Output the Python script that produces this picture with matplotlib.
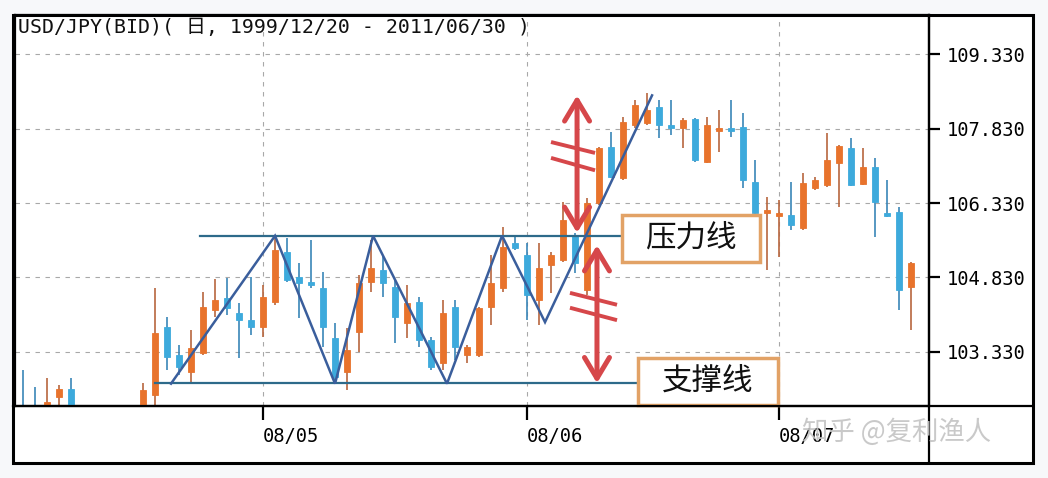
import matplotlib
matplotlib.use('Agg')
import matplotlib.pyplot as plt
from matplotlib.patches import Rectangle, FancyArrowPatch
from matplotlib.lines import Line2D
import pandas as pd

# ---------------- data (daily USD/JPY candles) ----------------
opens = [102.20, 102.10, 102.00, 102.42, 102.59, 102.00, 101.60, 101.50, 101.20, 101.70,
         102.10, 102.46, 103.83, 103.27, 102.93, 103.31, 104.18, 104.42, 104.12, 103.97,
         103.83, 104.34, 105.34, 104.84, 104.74, 104.62, 103.61, 102.93, 103.73, 104.74,
         104.98, 104.64, 103.91, 104.34, 103.57, 103.11, 104.24, 103.27, 103.27, 104.24,
         104.62, 105.52, 105.28, 104.38, 105.08, 105.18, 105.69, 104.58, 106.33, 107.46,
         106.83, 107.90, 107.94, 108.26, 107.88, 107.84, 108.02, 107.16, 107.78, 107.82,
         107.86, 106.75, 106.13, 106.07, 106.09, 105.83, 106.63, 106.69, 107.13, 107.44,
         106.71, 107.05, 106.11, 106.15, 104.64]
highs = [102.97, 102.62, 102.81, 102.67, 102.81, 102.10, 101.90, 101.80, 101.90, 102.15,
         102.71, 104.62, 104.03, 103.47, 103.77, 104.54, 104.80, 104.82, 104.32, 104.84,
         104.68, 105.65, 105.63, 105.12, 105.58, 104.94, 103.91, 103.81, 104.88, 105.58,
         105.28, 104.78, 104.68, 104.44, 103.63, 104.38, 104.38, 103.47, 104.24, 105.28,
         105.85, 105.65, 105.52, 105.52, 105.34, 106.35, 105.73, 106.43, 107.46, 107.76,
         108.06, 108.40, 108.54, 108.40, 108.40, 108.04, 108.04, 108.06, 108.20, 108.40,
         108.14, 107.20, 106.45, 106.39, 106.75, 106.93, 106.85, 107.74, 107.50, 107.64,
         107.44, 107.24, 106.79, 106.25, 105.14]
lows = [101.90, 101.70, 101.80, 102.10, 101.90, 101.40, 101.20, 101.00, 100.90, 101.30,
        101.90, 102.20, 102.97, 102.87, 102.73, 103.27, 104.03, 104.08, 103.21, 103.67,
        103.63, 104.28, 104.74, 104.02, 104.62, 103.43, 102.71, 102.57, 103.33, 104.54,
        104.44, 103.51, 103.61, 103.43, 102.97, 102.97, 103.17, 103.11, 103.23, 103.87,
        104.54, 105.38, 103.97, 103.87, 104.52, 105.14, 104.92, 104.48, 106.30, 106.83,
        106.79, 107.84, 107.90, 107.64, 107.70, 107.44, 107.16, 107.14, 107.36, 107.66,
        106.63, 106.09, 104.98, 105.24, 105.79, 105.79, 106.59, 106.65, 106.25, 106.67,
        106.69, 105.65, 106.05, 104.18, 103.77]
closes = [102.00, 101.95, 102.32, 102.59, 102.10, 101.60, 101.50, 101.20, 101.70, 102.00,
          102.57, 103.71, 103.23, 103.03, 103.41, 104.24, 104.38, 104.22, 103.97, 103.83,
          104.44, 105.38, 104.78, 104.72, 104.68, 103.83, 102.83, 103.37, 104.72, 105.02,
          104.72, 104.03, 104.32, 103.57, 103.03, 104.12, 103.43, 103.43, 104.22, 104.72,
          105.44, 105.42, 104.48, 105.02, 105.28, 105.99, 105.12, 106.33, 107.44, 106.85,
          107.96, 108.30, 108.20, 107.90, 107.84, 108.00, 107.20, 107.90, 107.82, 107.78,
          106.79, 106.13, 106.17, 106.11, 105.89, 106.73, 106.79, 107.20, 107.48, 106.69,
          107.05, 106.35, 106.07, 104.58, 105.12]
dates = pd.bdate_range('2008-04-03', periods=len(opens))

y_ticks = [103.33, 104.83, 106.33, 107.83, 109.33]
title = "USD/JPY(BID)( 日, 1999/12/20 - 2011/06/30 )"

# hand-drawn annotation (candle index, price)
zigzag_x = [12.33, 21.0, 26.0, 29.17, 35.33, 39.92, 43.5, 52.42]
zigzag_y = [102.69, 105.67, 102.69, 105.67, 102.69, 105.67, 103.93, 108.50]
resistance_level, resistance_span = 105.67, (14.75, 49.92)
support_level, support_span = 102.71, (11.0, 51.25)
arrow_up = (46.17, 108.50, 105.73)
arrow_up_slashes = [((44.0, 107.56), (47.67, 107.34)), ((44.0, 107.24), (47.67, 106.99))]
arrow_dn = (47.83, 105.48, 102.70)
arrow_dn_slashes = [((45.58, 104.52), (49.5, 104.28)), ((45.58, 104.22), (49.5, 103.97))]
label_res = ("压力线", 49.92, 105.14, 11.5, 0.95)
label_sup = ("支撑线", 51.25, 102.26, 11.67, 0.95)
watermark = "知乎 @复利渔人"

# ---------------- figure ----------------
W, H = 1048, 478
fig = plt.figure(figsize=(W / 100, H / 100), dpi=100, facecolor='#F7F8FA')
fx = lambda px: px / W
fy = lambda py: 1 - py / H

# white panel inside outer frame
fig.add_artist(Rectangle((fx(13), fy(463)), fx(1033) - fx(13), fy(15) - fy(463),
                         transform=fig.transFigure, fc='white', ec='none', zorder=-5))

ax = fig.add_axes([fx(15), fy(406), fx(929) - fx(15), fy(15) - fy(406)])
ax.set_facecolor('white')

UP_BODY, UP_WICK = '#E8732C', '#B8663E'
DN_BODY, DN_WICK = '#3DAADC', '#3A86B8'
xs = list(range(len(opens)))
for i, o, h, l, c in zip(xs, opens, highs, lows, closes):
    up = c >= o
    ax.vlines(i, l, h, color=UP_WICK if up else DN_WICK, lw=1.2, zorder=2)
    bot = min(o, c)
    hgt = max(abs(c - o), 0.06)
    ax.bar(i, hgt, bottom=bot, width=0.45, color=UP_BODY if up else DN_BODY,
           edgecolor=UP_BODY if up else DN_BODY, lw=0.6, zorder=3)

ax.set_xlim(-0.67, 75.5)
ax.set_ylim(102.24, 110.12)

# ticks
month_idx = [i for i in range(1, len(dates)) if dates[i].month != dates[i - 1].month]
ax.set_xticks(month_idx)
ax.set_xticklabels([dates[i].strftime('%y/%m') for i in month_idx],
                   family='DejaVu Sans Mono', fontsize=13.5, ha='left')
ax.set_yticks(y_ticks)
ax.set_yticklabels(['%.3f' % v for v in y_ticks], family='DejaVu Sans Mono', fontsize=13.5)
ax.yaxis.tick_right()
ax.tick_params(axis='y', direction='out', length=8, width=1.6, pad=5, colors='black')
ax.tick_params(axis='x', direction='out', length=10, width=1.6, pad=5, colors='black')
ax.grid(True, color='#A8A8A8', ls=(0, (4, 5)), lw=0.8, zorder=0)
for s in ax.spines.values():
    s.set_linewidth(1.6)
    s.set_color('black')

# annotation lines
ax.plot(resistance_span, [resistance_level] * 2, color='#2D6A8A', lw=1.6, zorder=4)
ax.plot(support_span, [support_level] * 2, color='#2D6A8A', lw=1.6, zorder=4)
ax.plot(zigzag_x, zigzag_y, color='#3A5E9C', lw=1.8, zorder=5, solid_joinstyle='miter')

RED = '#D6474A'
for (x, y0, y1), slashes in [(arrow_up, arrow_up_slashes), (arrow_dn, arrow_dn_slashes)]:
    ax.add_patch(FancyArrowPatch((x, y1), (x, y0), arrowstyle='<->,head_length=0.75,head_width=0.45',
                                 mutation_scale=20, color=RED, lw=3.6, shrinkA=0, shrinkB=0, zorder=6))
    for (a, b) in slashes:
        ax.plot([a[0], b[0]], [a[1], b[1]], color=RED, lw=2.8, zorder=6, solid_capstyle='butt')

for txt, x0, y0, w, h in [label_res, label_sup]:
    ax.add_patch(Rectangle((x0, y0), w, h, fc='white', ec='#E2A266', lw=2.5, zorder=7, clip_on=False))
    ax.text(x0 + w / 2, y0 + h / 2, txt, ha='center', va='center', fontsize=22,
            family=['Noto Sans CJK SC', 'DejaVu Sans'], color='#111111', zorder=8)

# title
ax.text(fx(18), fy(28), title, transform=fig.transFigure, ha='left', va='center',
        fontsize=14.3, family=['DejaVu Sans Mono', 'Noto Sans CJK JP'], color='#111111', zorder=9)

# outer frame and separators
fig.add_artist(Rectangle((fx(13), fy(463)), fx(1033) - fx(13), fy(15) - fy(463),
                         transform=fig.transFigure, fill=False, ec='black', lw=2.2))
fig.add_artist(Line2D([fx(929), fx(929)], [fy(15), fy(463)], transform=fig.transFigure, color='black', lw=1.6))
fig.add_artist(Line2D([fx(13), fx(1033)], [fy(406), fy(406)], transform=fig.transFigure, color='black', lw=1.6))

# watermark
fig.text(fx(802), fy(432), watermark, ha='left', va='center', fontsize=19,
         family=['Noto Sans CJK SC', 'DejaVu Sans'], color='#C4C4C4', alpha=0.9, zorder=10)

fig.savefig('out.png', dpi=100, facecolor=fig.get_facecolor())
